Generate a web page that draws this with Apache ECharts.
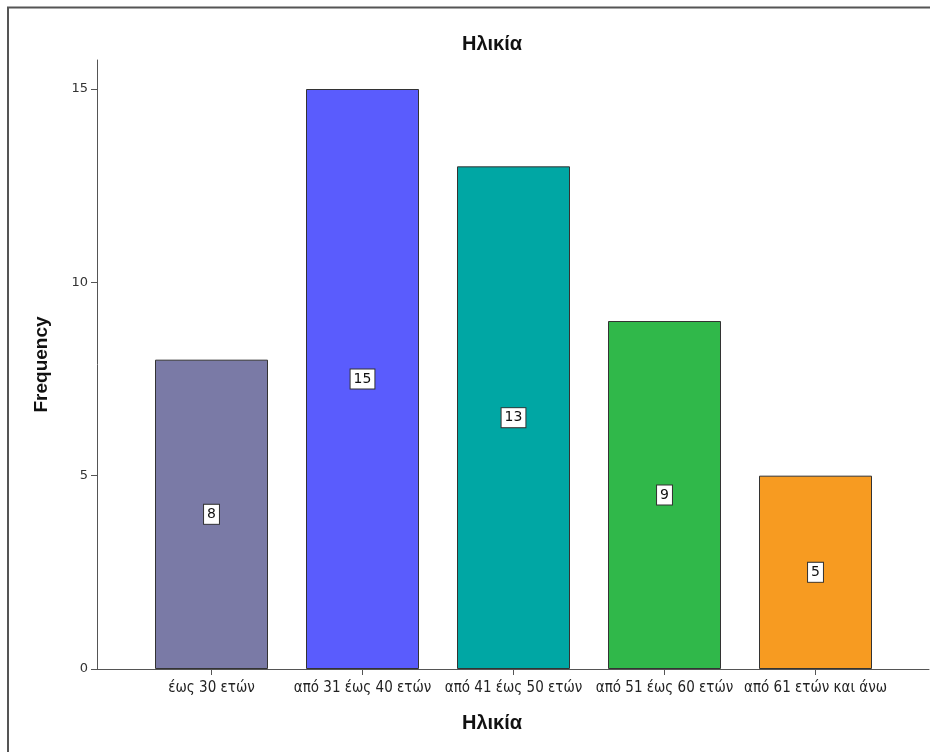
<!DOCTYPE html>
<html>
<head>
<meta charset="utf-8">
<script src="https://cdn.jsdelivr.net/npm/echarts@6/dist/echarts.min.js"></script>
<style>
html,body{margin:0;padding:0;background:#fff;}
#c{width:930px;height:752px;}
</style>
</head>
<body>
<div id="c"></div>
<script>
const categories = ['έως 30 ετών', 'από 31 έως 40 ετών', 'από 41 έως 50 ετών', 'από 51 έως 60 ετών', 'από 61 ετών και άνω'];
const frequencies = [8, 15, 13, 9, 5];
const barColors = ['#7a7aa6', '#5a5cfd', '#00a7a4', '#30b84a', '#f79b21'];
const yTicks = [0, 5, 10, 15];

const chart = echarts.init(document.getElementById('c'));
const axisColor = '#555';
const option = {
  backgroundColor: '#fff',
  animation: false,
  title: [
    {text: 'Ηλικία', left: 487, top: 29, textAlign: 'center',
     textStyle: {fontFamily: 'Liberation Sans', fontSize: 20, fontWeight: 'bold', color: '#111'}},
    {text: 'Ηλικία', left: 487, top: 708, textAlign: 'center',
     textStyle: {fontFamily: 'Liberation Sans', fontSize: 20, fontWeight: 'bold', color: '#111'}}
  ],
  graphic: [
    {type: 'polyline', shape: {points: [[8, 752], [8, 7.5], [930, 7.5]]},
     style: {stroke: '#555', lineWidth: 2, fill: null}}
  ],
  grid: [
    {left: 97, right: 1, top: 60, bottom: 83},
    {left: 136, right: 39, top: 60, bottom: 83}
  ],
  xAxis: [
    {type: 'value', gridIndex: 0, min: 0, max: 1,
     axisLine: {show: true, onZero: false, lineStyle: {color: axisColor, width: 1}},
     axisTick: {show: false}, axisLabel: {show: false}, splitLine: {show: false}},
    {type: 'category', gridIndex: 1, data: categories,
     axisLine: {show: false},
     axisTick: {show: true, alignWithLabel: true, length: 6, lineStyle: {color: axisColor}},
     axisLabel: {color: '#222', fontFamily: 'DejaVu Sans Condensed, Liberation Sans', fontSize: 15, margin: 12, interval: 0},
     splitLine: {show: false}}
  ],
  yAxis: [
    {type: 'value', gridIndex: 0, min: 0, max: 15.75, interval: 5,
     name: 'Frequency', nameLocation: 'middle', nameRotate: 90, nameGap: 46,
     nameTextStyle: {fontFamily: 'Liberation Sans', fontSize: 19, fontWeight: 'bold', color: '#111'},
     axisLine: {show: true, lineStyle: {color: axisColor, width: 1}},
     axisTick: {show: true, length: 6, inside: false, lineStyle: {color: axisColor}},
     axisLabel: {color: '#333', fontFamily: 'DejaVu Sans', fontSize: 13, margin: 9, showMaxLabel: false,
       formatter: function (v) { return yTicks.indexOf(v) >= 0 ? String(v) : ''; }},
     splitLine: {show: false}},
    {type: 'value', gridIndex: 1, min: 0, max: 15.75, show: false, splitLine: {show: false}}
  ],
  series: [{
    type: 'bar', xAxisIndex: 1, yAxisIndex: 1,
    barWidth: 113,
    data: frequencies.map((v, i) => ({value: v, itemStyle: {color: barColors[i]}})),
    itemStyle: {borderColor: '#333', borderWidth: 1},
    label: {show: true, position: 'inside', color: '#111',
      fontFamily: 'DejaVu Sans', fontSize: 14,
      backgroundColor: '#fff', borderColor: '#333', borderWidth: 1, padding: [3, 3, 2, 3]}
  }]
};
chart.setOption(option);
</script>
</body>
</html>
